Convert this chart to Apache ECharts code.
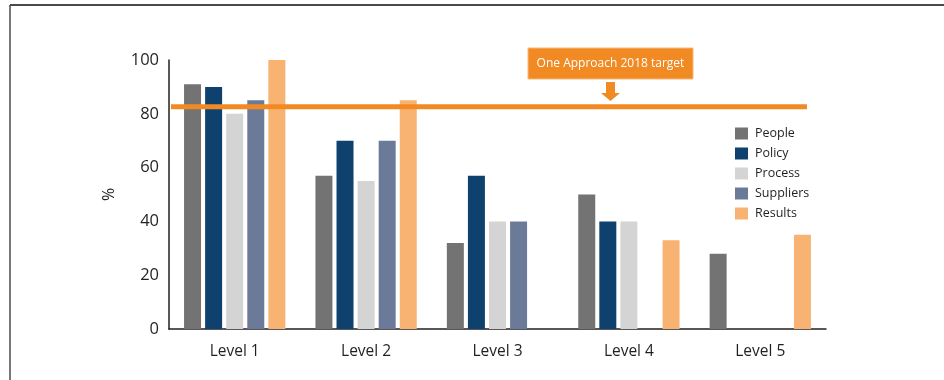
<!DOCTYPE html>
<html>
<head>
<meta charset="utf-8">
<script src="https://cdn.jsdelivr.net/npm/echarts@6/dist/echarts.min.js"></script>
<style>
  html, body { margin: 0; padding: 0; background: #fff; }
  #chart { width: 944px; height: 380px; }
</style>
</head>
<body>
<div id="chart"></div>
<script>
const categories = ['Level 1', 'Level 2', 'Level 3', 'Level 4', 'Level 5'];
const seriesNames = ['People', 'Policy', 'Process', 'Suppliers', 'Results'];
const people = [91, 57, 32, 50, 28];
const policy = [90, 70, 57, 40, null];
const process = [80, 55, 40, 40, null];
const suppliers = [85, 70, 40, null, null];
const results = [100, 85, null, 33, 35];
const yTicks = [0, 20, 40, 60, 80, 100];
const targetValue = 82.6;
const targetSpan = [0.015, 4.855];
const targetLabel = 'One Approach 2018 target';

const colors = ['#737373', '#0f416e', '#d3d4d3', '#6c7a9a', '#f8b372'];
const values = [people, policy, process, suppliers, results];
const font = '"Open Sans", "Noto Sans", sans-serif';
const textColor = '#231f20';

const chart = echarts.init(document.getElementById('chart'), null, { renderer: 'canvas' });

const barSeries = seriesNames.map((name, i) => ({
  name: name,
  type: 'bar',
  data: values[i],
  barWidth: 17,
  barGap: '24%',
  itemStyle: { color: colors[i] },
  silent: true,
  z: 2
}));

const option = {
  animation: false,
  textStyle: { fontFamily: font },
  grid: { left: 169, right: 118, top: 60, bottom: 51 },
  legend: {
    data: seriesNames,
    orient: 'vertical',
    left: 730,
    top: 122,
    itemWidth: 13,
    itemHeight: 12,
    itemGap: 7,
    icon: 'rect',
    textStyle: { fontSize: 12.5, color: textColor, fontFamily: font, padding: [0, 0, 0, 2] }
  },
  xAxis: [
    {
      type: 'category',
      data: categories,
      axisLine: { lineStyle: { color: textColor, width: 1.5 } },
      axisTick: { inside: true, length: 6, lineStyle: { color: textColor, width: 1.2 } },
      axisLabel: { fontSize: 15.5, color: textColor, margin: 15, fontFamily: font }
    },
    {
      type: 'value',
      min: 0,
      max: 5,
      show: false
    }
  ],
  yAxis: {
    type: 'value',
    min: yTicks[0],
    max: yTicks[yTicks.length - 1],
    interval: 20,
    name: '%',
    nameLocation: 'middle',
    nameGap: 52,
    nameRotate: 90,
    nameTextStyle: { fontSize: 16, color: textColor, fontFamily: font },
    axisLine: { show: true, lineStyle: { color: textColor, width: 1.5 } },
    axisTick: { show: false },
    splitLine: { show: false },
    axisLabel: { fontSize: 16.5, color: textColor, margin: 10, fontFamily: font, padding: [6, 0, 0, 0] }
  },
  series: barSeries.concat([
    {
      name: 'target',
      type: 'line',
      xAxisIndex: 1,
      data: [[targetSpan[0], targetValue], [targetSpan[1], targetValue]],
      symbol: 'none',
      silent: true,
      lineStyle: { color: '#f28a24', width: 5 },
      z: 5
    }
  ]),
  graphic: [
    { type: 'line', shape: { x1: 10, y1: 5, x2: 944, y2: 5 }, style: { stroke: '#4a4a4a', lineWidth: 2 }, silent: true },
    { type: 'line', shape: { x1: 10, y1: 5, x2: 10, y2: 380 }, style: { stroke: '#4a4a4a', lineWidth: 1.5 }, silent: true },
    { type: 'rect', shape: { x: 528, y: 48, width: 165, height: 31 }, style: { fill: '#f28a24', stroke: '#f7b777', lineWidth: 1 }, silent: true },
    { type: 'text', x: 610.5, y: 63.5, style: { text: targetLabel, fill: '#ffffff', font: '12px "Open Sans", sans-serif', textAlign: 'center', textVerticalAlign: 'middle' }, silent: true },
    { type: 'polygon', shape: { points: [[606, 82], [615, 82], [615, 93], [620, 93], [610.5, 101], [601, 93], [606, 93]] }, style: { fill: '#f28a24' }, silent: true }
  ]
};

chart.setOption(option);
</script>
</body>
</html>
